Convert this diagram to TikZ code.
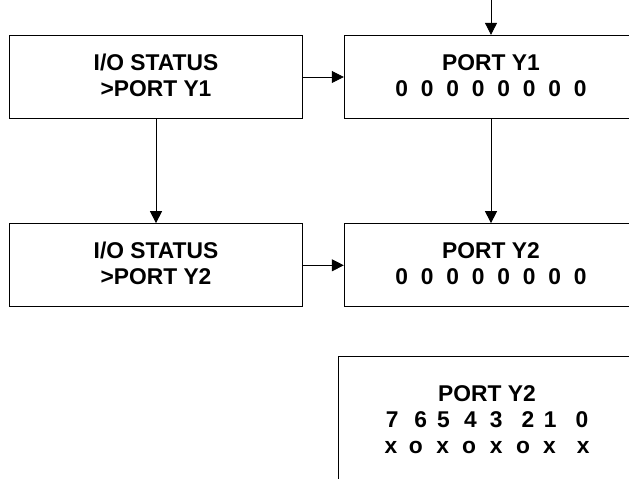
\documentclass[tikz,border=0pt]{standalone}
\usepackage{fontspec}
\setmainfont{Liberation Sans}
\usetikzlibrary{arrows.meta}
\newcommand\zgap{\hspace{12.8bp}}
\begin{document}
\begin{tikzpicture}[x=1bp,y=-1bp,
  box/.style={draw=black, line width=1bp, minimum width=293.4bp, minimum height=83.3bp, inner sep=0pt},
  txt/.style={font=\fontsize{22.8bp}{26bp}\selectfont\bfseries, align=center, inner sep=0pt},
  conn/.style={line width=0.8bp, draw=black, -{Triangle[length=12bp,width=12bp]}}]
\clip (0,0) rectangle (629,479);
\fill[white] (0,0) rectangle (629,479);
% boxes
\node[box] (b1) at (156,77) {};
\node[box] (b2) at (491,77) {};
\node[box] (b3) at (156,265.3) {};
\node[box] (b4) at (491,265.3) {};
\node[box, minimum width=297bp, minimum height=200bp] (b5) at (487,456.7) {};
% texts
\node[txt, yshift=1.8bp] (t1) at (b1.center) {I/O STATUS\\>PORT Y1};
\node[txt, yshift=1.8bp] (t2) at (b2.center) {PORT Y1\\0\zgap0\zgap0\zgap0\zgap0\zgap0\zgap0\zgap0};
\node[txt, yshift=1.8bp] (t3) at (b3.center) {I/O STATUS\\>PORT Y2};
\node[txt, yshift=1.8bp] (t4) at (b4.center) {PORT Y2\\0\zgap0\zgap0\zgap0\zgap0\zgap0\zgap0\zgap0};
\node[txt] (t5) at (487,419.2) {PORT Y2\\7\hspace{16bp}6\hspace{10bp}5\hspace{14.2bp}4\hspace{13.3bp}3\hspace{19bp}2\hspace{9.5bp}1\hspace{19bp}0\\x\hspace{11.8bp}o\hspace{13.5bp}x\hspace{13.1bp}o\hspace{13.8bp}x\hspace{13.5bp}o\hspace{13.1bp}x\hspace{21bp}x};
% connectors
\coordinate (top) at (491,-2);
\draw[conn] (top) -- (b2.north);
\draw[conn] (b1.east) -- (b2.west);
\draw[conn] (b3.east) -- (b4.west);
\draw[conn] (b1.south) -- (b3.north);
\draw[conn] (b2.south) -- (b4.north);
\end{tikzpicture}
\end{document}
